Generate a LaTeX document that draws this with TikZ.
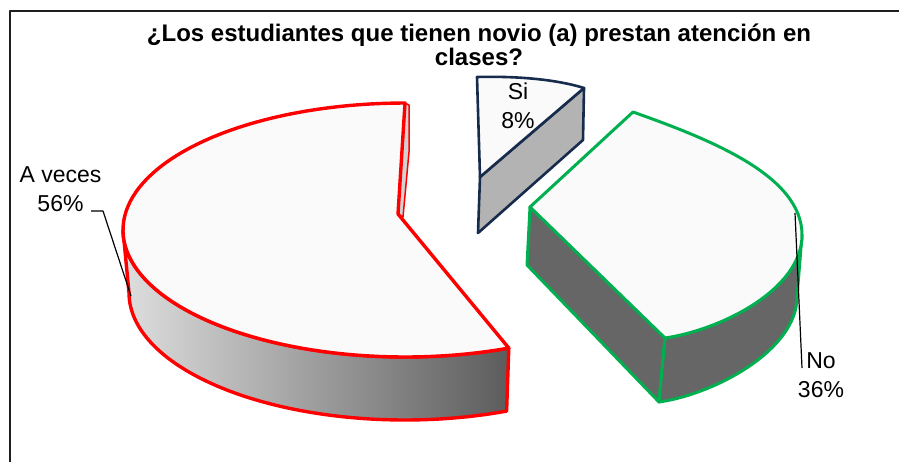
\documentclass[tikz,border=0pt]{standalone}
\usepackage{fontspec}
\setmainfont{Liberation Sans}
\definecolor{redc}{RGB}{255,0,0}
\definecolor{greenc}{RGB}{0,176,80}
\definecolor{navyc}{RGB}{23,43,77}
\definecolor{topc}{RGB}{250,250,250}
\definecolor{darkwall}{RGB}{102,102,102}
\definecolor{siwall}{RGB}{179,179,179}
\definecolor{wallL}{RGB}{222,222,222}
\definecolor{wallR}{RGB}{92,92,92}
\definecolor{framec}{RGB}{30,30,30}
\tikzset{
  titletext/.style={font=\bfseries\fontsize{24}{24}\selectfont, anchor=base, inner sep=0pt},
  lbl/.style={font=\fontsize{23}{28.5}\selectfont, align=center, inner sep=0pt},
  leader/.style={line width=1.2pt, black},
  redline/.style={draw=redc, line width=3.4pt},
  greenline/.style={draw=greenc, line width=3pt},
  navyline/.style={draw=navyc, line width=2.6pt}
}
\begin{document}
\begin{tikzpicture}[x=1pt,y=-1pt, line join=round]
\useasboundingbox (0,0) rectangle (899,461);
\fill[white] (0,0) rectangle (899,461);
\draw[line width=2pt, framec] (10,462) -- (10,11) -- (900,11);

% title
\node[titletext] (title1) at (479,41.7) {¿Los estudiantes que tienen novio (a) prestan atención en};
\node[titletext] (title2) at (479,65.5) {clases?};

% A veces slice: outer wall
\path[redline, left color=wallL, right color=wallR]
  plot[domain=180:291.6, samples=70] ({405+282*cos(\x)},{230-127*sin(\x)})
  -- plot[domain=291.6:180, samples=70] ({405+276*cos(\x)},{293-127*sin(\x)}) -- cycle;
% sliver of the radial face
\path[draw=redc, line width=1.5pt, fill=gray!35] (398,214) -- (405,103) -- (409,105) -- (409,152) -- (403,217) -- cycle;
% top face
\path[redline, fill=topc] (398,214) -- (405,103)
  -- plot[domain=90:291.6, samples=90] ({405+282*cos(\x)},{230-127*sin(\x)}) -- cycle;

% Si slice
\path[navyline, fill=siwall] (480,177) -- (584,88) -- (583,140) -- (478,233) -- cycle;
\path[navyline, fill=topc] (477,77) .. controls (515,76) and (555,79) .. (584,88) -- (480,177) -- cycle;

% No slice
\path[greenline, fill=darkwall] (530,207) -- (665,338) -- (659,402) -- (527,265) -- cycle;
\path[greenline, fill=darkwall] (802,235) .. controls (802,290) and (720,330) .. (665,338)
  -- (659,402) .. controls (715,394) and (797,350) .. (797,297) -- cycle;
\path[greenline, fill=topc] (530,207) -- (633,112) .. controls (712,140) and (802,176) .. (802,235)
  .. controls (802,290) and (720,330) .. (665,338) -- cycle;

% labels
\node[lbl] (aveces) at (60.5,189) {A veces\\56\%};
\node[lbl] (si) at (518,106) {Si\\8\%};
\node[lbl] (no) at (821,375.4) {No\\36\%};

% leaders
\coordinate (a1) at (91,211);
\coordinate (a2) at (103,211);
\coordinate (a3) at (131,296);
\draw[leader] (a1) -- (a2) -- (a3);
\coordinate (n1) at (795,213);
\coordinate (n2) at (802,368);
\draw[leader] (n1) -- (n2);
\end{tikzpicture}
\end{document}
